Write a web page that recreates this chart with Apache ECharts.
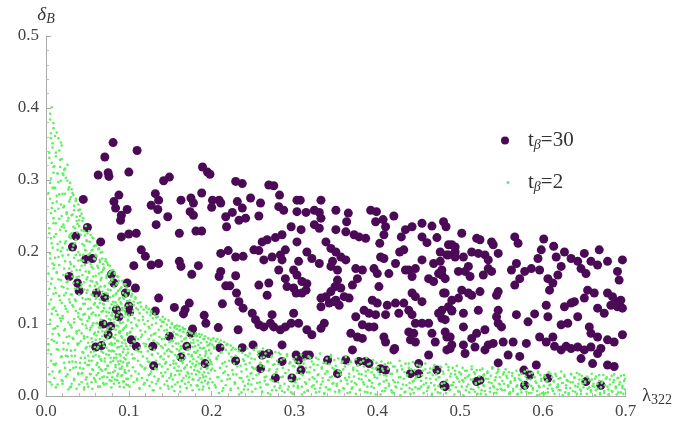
<!DOCTYPE html>
<html><head><meta charset="utf-8">
<script src="https://cdn.jsdelivr.net/npm/echarts@6/dist/echarts.min.js"></script>
<style>html,body{margin:0;padding:0;background:#fff}#c{width:675px;height:425px}</style>
</head><body><div id="c"></div>
<script>
// t_beta = 30 (purple) points
const purpleLeft = [
[.081,.352],[.110,.341],[.071,.332],[.063,.307],[.075,.310],[.076,.305],[.100,.311],[.045,.273],
[.088,.279],[.082,.270],[.084,.261],[.098,.259],[.091,.251],[.090,.244],
[.091,.221],[.100,.225],[.109,.226],[.066,.214],[.050,.234],[.036,.222],[.032,.207],[.048,.190],[.056,.191],
[.028,.166],[.038,.157],[.040,.146],[.061,.143],[.071,.137],[.079,.169],[.082,.157],
[.098,.157],[.096,.143],[.108,.150],[.085,.120],[.088,.110],[.100,.125],[.101,.117],
[.069,.100],[.078,.097],[.075,.085],[.060,.068],[.067,.070],[.103,.078],[.109,.069],
[.129,.069],[.130,.042],[.132,.118],[.136,.136],
[.106,.181],[.115,.203],[.120,.194],[.127,.182],[.136,.184],[.133,.238],
[.127,.265],[.132,.281],[.136,.272],[.135,.259],[.147,.249],[.142,.299],[.149,.304],
[.161,.226],[.161,.187],[.163,.180],[.163,.272],[.175,.275],[.178,.268],[.174,.256],[.178,.251],[.188,.282],
[.189,.318],[.195,.311],[.198,.308],[.181,.229],[.188,.229],[.184,.181],[.176,.169],
[.155,.123],[.166,.114],[.173,.129],[.168,.120],[.191,.112],[.193,.101],[.177,.093],[.175,.087],
[.149,.083],[.170,.069],[.163,.054],[.192,.045],[.210,.067],[.208,.095],[.213,.128],[.229,.049],[.232,.092],[.237,.067],
[.201,.272],[.209,.272],[.211,.268],[.200,.262],[.229,.298],[.237,.295],
[.217,.249],[.225,.255],[.231,.270],[.237,.261],[.241,.247],[.233,.244],[.218,.235],
[.211,.198],[.220,.202],[.229,.193],[.238,.194],[.211,.173],[.209,.166],[.217,.153],[.222,.153],[.229,.167],
[.230,.143],[.233,.131],[.238,.122]
];
const purpleMid = [
[.269,.293],[.275,.292],[.282,.279],[.247,.275],[.259,.268],[.257,.250],[.281,.263],[.287,.258],
[.303,.272],[.307,.272],[.303,.256],[.314,.255],[.324,.258],[.332,.272],[.330,.255],[.332,.247],[.324,.238],[.330,.233],
[.296,.235],[.308,.231],[.350,.258],[.365,.254],[.363,.242],[.350,.231],[.362,.228],[.372,.224],[.378,.221],[.386,.219],
[.392,.258],[.399,.256],[.398,.242],[.407,.245],[.420,.250],[.410,.235],[.408,.224],[.403,.212],
[.429,.221],[.434,.231],[.442,.235],[.454,.240],[.466,.236],[.480,.242],[.483,.235],[.454,.221],[.460,.213],[.472,.220],
[.486,.210],[.494,.207],[.261,.214],[.267,.217],[.277,.220],[.285,.224],[.251,.203],[.257,.202],
[.263,.189],[.273,.193],[.283,.196],[.289,.203],[.303,.214],[.315,.200],[.321,.191],[.330,.184],
[.305,.187],[.299,.175],[.303,.168],[.285,.189],[.281,.175],
[.338,.214],[.344,.205],[.350,.200],[.356,.193],[.362,.189],[.346,.187],[.344,.180],[.352,.175],
[.352,.161],[.349,.152],[.356,.150],[.344,.145],[.338,.138],[.332,.124],[.348,.131],[.354,.126],[.366,.136],
[.374,.177],[.382,.175],[.376,.163],[.370,.154],[.396,.177],[.404,.193],[.408,.191],[.400,.170],
[.422,.184],[.427,.200],[.432,.203],[.434,.175],[.442,.166],[.438,.175],[.446,.177],[.454,.189],
[.462,.163],[.468,.159],[.474,.170],[.478,.168],[.402,.152],[.414,.170],[.442,.143],[.446,.138],[.454,.131],
[.480,.143],[.490,.133],[.486,.124],[.468,.184],[.476,.200],[.486,.196],[.494,.193],
[.257,.154],[.269,.157],[.267,.140],[.289,.163],[.291,.152],[.299,.150],[.309,.159],[.315,.156],
[.302,.143],[.309,.143],[.314,.147],[.332,.136],[.342,.129],[.350,.133],[.360,.138],
[.394,.133],[.400,.129],[.412,.126],[.422,.129],[.432,.129],
[.384,.119],[.390,.115],[.398,.113],[.410,.113],[.426,.115],[.438,.119],[.442,.113],[.446,.101],[.454,.101],
[.462,.101],[.474,.115],[.478,.108],[.490,.118],[.374,.110],[.382,.099],[.390,.096],[.396,.096],
[.249,.115],[.253,.106],[.257,.099],[.263,.096],[.271,.101],[.275,.096],[.283,.092],[.289,.096],[.296,.101],
[.273,.113],[.299,.115],[.305,.101],[.315,.092],[.321,.085],[.336,.101],[.332,.094],
[.368,.087],[.376,.082],[.382,.080],[.408,.082],[.410,.075],[.420,.064],[.421,.066],
[.438,.089],[.444,.087],[.440,.078],[.446,.075],[.466,.087],[.470,.075],[.482,.089],[.484,.082],[.488,.066],
[.250,.071],[.285,.071],[.302,.057],[.314,.057],[.318,.057],[.370,.064],[.362,.050],[.378,.048],[.386,.048],[.390,.045],
[.340,.050],[.404,.038],[.410,.036],[.440,.031],[.450,.031],[.450,.045],[.462,.057],[.472,.036],[.482,.013],
[.261,.057],[.269,.059],[.259,.038],[.285,.048],[.277,.025],[.297,.025],[.308,.036],[.305,.050],[.352,.031]
];
const purpleRight = [
[.502,.226],[.520,.219],[.524,.217],[.538,.214],[.540,.210],[.566,.221],[.570,.212],[.601,.218],[.613,.208],
[.490,.210],[.494,.200],[.484,.196],
[.504,.193],[.514,.200],[.522,.198],[.530,.196],[.534,.189],[.546,.198],[.534,.177],[.538,.173],[.528,.168],
[.510,.180],[.506,.173],[.512,.166],[.476,.187],[.478,.175],[.482,.163],[.498,.173],
[.562,.175],[.568,.184],[.572,.163],[.566,.154],[.578,.173],[.586,.177],[.594,.191],[.596,.175],[.598,.203],
[.606,.163],[.612,.157],[.608,.147],[.618,.168],[.622,.180],
[.616,.193],[.626,.200],[.634,.191],[.642,.187],[.650,.198],[.658,.187],[.668,.203],[.666,.182],[.678,.187],[.696,.189],
[.690,.173],[.692,.161],[.646,.177],[.652,.170],
[.482,.143],[.478,.119],[.482,.106],[.502,.147],[.510,.143],[.514,.140],[.498,.136],[.524,.145],[.546,.145],[.544,.140],
[.490,.119],[.504,.115],[.522,.119],[.546,.119],[.544,.110],[.546,.101],[.550,.096],
[.504,.096],[.520,.087],[.530,.092],[.514,.080],[.488,.082],[.490,.071],[.484,.064],
[.504,.071],[.506,.059],[.518,.068],[.530,.064],[.534,.071],[.540,.073],[.552,.075],[.564,.075],[.580,.073],
[.546,.046],[.558,.057],[.572,.055],
[.568,.113],[.582,.103],[.590,.114],[.604,.126],[.606,.110],
[.596,.082],[.604,.075],[.612,.082],[.614,.069],[.622,.064],[.628,.069],[.634,.066],
[.626,.124],[.634,.129],[.638,.131],[.642,.110],[.650,.136],[.666,.122],[.674,.115],[.682,.126],[.690,.124],[.694,.133],[.696,.122],
[.678,.143],[.684,.138],[.690,.131],[.662,.143],[.654,.147],[.622,.099],[.630,.101],
[.656,.096],[.658,.087],[.666,.082],[.678,.078],[.686,.075],[.696,.085],
[.642,.068],[.650,.064],[.658,.068],[.666,.059],[.670,.066],[.646,.052],[.660,.045],[.678,.043],[.686,.041],
[.577,.036],[.584,.029],[.592,.043],[.520,.020],[.524,.022],[.578,.015],[.606,.025],[.652,.020],[.670,.015],[.480,.015]
];
// t_beta = 2 (green) points
const greenLeft = [
[.007,.401],[.005,.384],[.009,.372],[.006,.358],[.008,.345],[.004,.331],[.009,.318],[.006,.302],[.008,.289],[.005,.274],[.007,.261],[.009,.247],[.004,.233],[.006,.219],[.008,.206],[.005,.191],[.009,.177],[.007,.163],[.004,.149],[.006,.134],[.008,.121],[.005,.106],[.009,.093],[.007,.078],[.003,.064],[.006,.049],[.008,.034],[.005,.019],
[.013,.366],[.018,.352],[.011,.361],[.016,.341],[.019,.329],[.012,.333],[.017,.318],[.014,.309],[.015,.297],[.010,.289],[.013,.278],[.018,.266],[.011,.257],[.016,.246],[.019,.235],[.012,.225],[.017,.214],[.014,.203],[.015,.193],[.010,.182],[.013,.171],[.018,.161],[.011,.150],[.016,.139],[.019,.129],[.012,.118],[.017,.108],[.014,.097],[.015,.086],[.010,.076],[.013,.065],[.018,.054],[.011,.043],[.016,.033],[.019,.022],[.012,.012],
[.026,.321],[.022,.314],[.029,.296],[.024,.303],[.020,.309],[.027,.287],[.023,.281],[.028,.270],[.021,.262],[.025,.253],[.026,.243],[.022,.234],[.029,.224],[.024,.215],[.020,.206],[.027,.196],[.023,.187],[.028,.177],[.021,.168],[.025,.158],[.026,.149],[.022,.140],[.029,.130],[.024,.121],[.020,.111],[.027,.102],[.023,.093],[.028,.083],[.021,.074],[.025,.064],[.026,.055],[.022,.046],[.029,.036],[.024,.027],[.020,.017],[.027,.009],
[.031,.287],[.036,.271],[.033,.279],[.039,.258],[.034,.264],[.030,.276],[.037,.249],[.032,.252],[.038,.239],[.035,.233],[.031,.226],[.036,.217],[.033,.209],[.039,.200],[.034,.192],[.030,.183],[.037,.175],[.032,.166],[.038,.158],[.035,.149],[.031,.141],[.036,.132],[.033,.124],[.039,.115],[.034,.107],[.030,.098],[.037,.090],[.032,.081],[.038,.073],[.035,.064],[.031,.056],[.036,.047],[.033,.039],[.039,.030],[.034,.022],[.030,.013],
[.041,.259],[.045,.247],[.043,.253],[.048,.236],[.040,.244],[.046,.229],[.042,.224],[.049,.216],[.044,.211],[.047,.203],[.041,.196],[.045,.188],[.043,.181],[.048,.173],[.040,.166],[.046,.158],[.042,.151],[.049,.143],[.044,.136],[.047,.128],[.041,.121],[.045,.113],[.043,.106],[.048,.098],[.040,.091],[.046,.083],[.042,.076],[.049,.068],[.044,.061],[.047,.053],[.041,.046],[.045,.038],[.043,.031],[.048,.023],[.040,.016],[.046,.009],
[.052,.229],[.057,.219],[.054,.224],[.059,.209],[.050,.215],[.056,.203],[.053,.198],[.058,.191],[.051,.186],[.055,.179],[.052,.173],[.057,.166],[.054,.160],[.059,.153],[.050,.147],[.056,.140],[.053,.134],[.058,.127],[.051,.121],[.055,.114],[.052,.108],[.057,.101],[.054,.095],[.059,.088],[.050,.082],[.056,.075],[.053,.069],[.058,.062],[.051,.056],[.055,.049],[.052,.043],[.057,.036],[.054,.030],[.059,.023],[.050,.017],[.056,.010],
[.061,.209],[.066,.199],[.063,.204],[.068,.191],[.060,.196],[.065,.186],[.062,.181],[.069,.175],[.064,.170],[.067,.164],[.061,.158],[.066,.152],[.063,.147],[.068,.141],[.060,.135],[.065,.129],[.062,.124],[.069,.118],[.064,.112],[.067,.106],[.061,.101],[.066,.095],[.063,.089],[.068,.083],[.060,.078],[.065,.072],[.062,.066],[.069,.060],[.064,.055],[.067,.049],[.061,.043],[.066,.037],[.063,.032],[.068,.026],[.060,.020],[.065,.013],
[.072,.190],[.077,.181],[.074,.185],[.079,.174],[.070,.178],[.076,.169],[.073,.164],[.078,.158],[.071,.153],[.075,.148],[.072,.143],[.077,.137],[.074,.132],[.079,.127],[.070,.122],[.076,.116],[.073,.111],[.078,.106],[.071,.100],[.075,.095],[.072,.090],[.077,.085],[.074,.079],[.079,.074],[.070,.069],[.076,.063],[.073,.058],[.078,.053],[.071,.048],[.075,.042],[.072,.037],[.077,.032],[.074,.026],[.079,.021],[.070,.016],
[.081,.175],[.086,.166],[.083,.171],[.088,.160],[.080,.163],[.085,.155],[.082,.151],[.087,.146],[.084,.141],[.089,.136],[.081,.131],[.086,.126],[.083,.121],[.088,.116],[.080,.112],[.085,.107],[.082,.102],[.087,.097],[.084,.092],[.089,.087],[.081,.082],[.086,.077],[.083,.073],[.088,.068],[.080,.063],[.085,.058],[.082,.053],[.087,.048],[.084,.043],[.089,.038],[.081,.033],[.086,.028],[.083,.023],[.088,.018],
[.092,.160],[.097,.151],[.094,.155],[.099,.146],[.090,.149],[.096,.141],[.093,.137],[.098,.132],[.091,.128],[.095,.123],[.092,.119],[.097,.114],[.094,.110],[.099,.105],[.090,.101],[.096,.096],[.093,.092],[.098,.087],[.091,.083],[.095,.078],[.092,.074],[.097,.069],[.094,.065],[.099,.060],[.090,.056],[.096,.051],[.093,.047],[.098,.042],[.091,.038],[.095,.033],[.092,.029],[.097,.024],[.094,.020],[.099,.015]
];
const greenDenseLeft = [
[.005,.392],[.009,.379],[.006,.365],[.008,.351],[.004,.338],[.007,.324],[.009,.310],[.005,.296],[.003,.282],[.008,.268],[.006,.254],[.009,.240],[.004,.226],[.007,.212],[.005,.198],[.008,.184],[.003,.170],[.006,.156],[.009,.142],[.004,.128],[.007,.114],[.005,.100],[.008,.086],[.003,.072],[.006,.058],[.009,.044],[.004,.030],[.007,.016],
[.015,.358],[.019,.348],[.012,.338],[.017,.328],[.010,.319],[.014,.309],[.018,.299],[.011,.289],[.016,.280],[.013,.270],[.015,.260],[.019,.250],[.012,.240],[.017,.231],[.010,.221],[.014,.211],[.018,.201],[.011,.192],[.016,.182],[.013,.172],[.015,.162],[.019,.152],[.012,.143],[.017,.133],[.010,.123],[.014,.113],[.018,.104],[.011,.094],[.016,.084],[.013,.074],[.015,.064],[.019,.055],[.012,.045],[.017,.035],[.010,.025],[.014,.016],
[.023,.316],[.021,.307],[.026,.299],[.028,.290],[.020,.281],[.029,.273],[.022,.264],[.025,.255],[.027,.247],[.021,.238],[.024,.229],[.028,.221],[.023,.212],[.026,.203],[.020,.195],[.029,.186],[.022,.177],[.025,.169],[.027,.160],[.021,.151],[.024,.143],[.028,.134],[.023,.125],[.026,.117],[.020,.108],[.029,.099],[.022,.091],[.025,.082],[.027,.073],[.021,.065],[.024,.056],[.028,.047],[.023,.039],[.026,.030],[.020,.021],[.029,.012],
[.032,.282],[.036,.274],[.039,.266],[.034,.258],[.031,.251],[.037,.243],[.033,.235],[.038,.227],[.030,.219],[.035,.212],[.032,.204],[.036,.196],[.039,.188],[.034,.180],[.031,.173],[.037,.165],[.033,.157],[.038,.149],[.030,.141],[.035,.134],[.032,.126],[.036,.118],[.039,.110],[.034,.102],[.031,.095],[.037,.087],[.033,.079],[.038,.071],[.030,.063],[.035,.056],[.032,.048],[.036,.040],[.039,.032],[.034,.024],[.031,.017],[.037,.010],
[.041,.250],[.044,.243],[.040,.236],[.043,.230],[.047,.223],[.049,.216],[.046,.209],[.048,.202],[.045,.196],[.042,.189],[.047,.182],[.041,.175],[.044,.168],[.049,.162],[.043,.155],[.046,.148],[.040,.141],[.048,.134],[.045,.128],[.042,.121],[.047,.114],[.041,.107],[.044,.100],[.049,.094],[.043,.087],[.046,.080],[.040,.073],[.048,.066],[.045,.060],[.042,.053],[.047,.046],[.041,.039],[.044,.032],[.049,.026],[.043,.019],[.046,.012],
[.050,.226],[.056,.220],[.053,.214],[.058,.208],[.055,.202],[.051,.196],[.059,.190],[.054,.183],[.057,.177],[.052,.171],[.050,.165],[.056,.159],[.053,.153],[.058,.147],[.055,.141],[.051,.135],[.059,.129],[.054,.122],[.057,.116],[.052,.110],[.050,.104],[.056,.098],[.053,.092],[.058,.086],[.055,.080],[.051,.074],[.059,.068],[.054,.061],[.057,.055],[.052,.049],[.050,.043],[.056,.037],[.053,.031],[.058,.025],[.055,.019],[.051,.013],
[.064,.205],[.068,.200],[.061,.194],[.065,.189],[.069,.183],[.063,.178],[.067,.172],[.060,.167],[.066,.161],[.062,.156],[.064,.150],[.068,.145],[.061,.139],[.065,.134],[.069,.128],[.063,.123],[.067,.117],[.060,.112],[.066,.106],[.062,.101],[.064,.095],[.068,.090],[.061,.084],[.065,.079],[.069,.073],[.063,.068],[.067,.062],[.060,.057],[.066,.051],[.062,.046],[.064,.040],[.068,.035],[.061,.029],[.065,.024],[.069,.018],[.063,.013],
[.072,.187],[.075,.182],[.070,.177],[.077,.172],[.073,.167],[.079,.162],[.076,.157],[.071,.152],[.078,.147],[.074,.142],[.072,.137],[.075,.132],[.070,.127],[.077,.122],[.073,.117],[.079,.112],[.076,.107],[.071,.102],[.078,.097],[.074,.092],[.072,.087],[.075,.082],[.070,.077],[.077,.072],[.073,.067],[.079,.062],[.076,.057],[.071,.052],[.078,.047],[.074,.042],[.072,.037],[.075,.032],[.070,.027],[.077,.022],[.073,.017],[.079,.012],
[.083,.170],[.087,.166],[.080,.161],[.086,.157],[.082,.152],[.089,.148],[.085,.143],[.081,.139],[.088,.134],[.084,.130],[.083,.125],[.087,.121],[.080,.116],[.086,.112],[.082,.107],[.089,.103],[.085,.098],[.081,.094],[.088,.089],[.084,.085],[.083,.080],[.087,.076],[.080,.071],[.086,.067],[.082,.062],[.089,.058],[.085,.053],[.081,.049],[.088,.044],[.084,.040],[.083,.035],[.087,.031],[.080,.026],[.086,.022],[.082,.017],[.089,.013],
[.096,.155],[.091,.151],[.099,.147],[.093,.143],[.097,.139],[.094,.135],[.090,.130],[.098,.126],[.092,.122],[.095,.118],[.096,.114],[.091,.110],[.099,.106],[.093,.102],[.097,.098],[.094,.094],[.090,.090],[.098,.085],[.092,.081],[.095,.077],[.096,.073],[.091,.069],[.099,.065],[.093,.061],[.097,.057],[.094,.053],[.090,.049],[.098,.045],[.092,.041],[.095,.036],[.096,.032],[.091,.028],[.099,.024],[.093,.020],[.097,.016],[.094,.012]
];
const greenMid = [
[.101,.147],[.104,.142],[.103,.138],[.108,.135],[.106,.131],[.111,.129],[.102,.127],[.115,.124],[.109,.122],[.118,.120],[.105,.118],[.113,.115],[.100,.112],[.117,.110],[.107,.108],[.112,.105],[.103,.102],[.119,.100],[.110,.097],[.104,.094],[.114,.091],[.101,.088],[.116,.085],[.108,.082],[.111,.079],[.106,.076],[.118,.073],[.102,.070],[.113,.067],[.109,.064],[.115,.061],[.104,.058],[.117,.055],[.107,.052],[.111,.049],[.100,.046],[.114,.043],[.105,.040],[.119,.037],[.108,.034],[.112,.031],[.103,.028],[.116,.025],[.110,.022],[.106,.019],[.118,.016],[.101,.013],[.113,.010],
[.121,.125],[.124,.121],[.127,.118],[.122,.116],[.131,.114],[.126,.112],[.135,.110],[.129,.108],[.138,.106],[.123,.104],[.133,.101],[.128,.099],[.139,.097],[.125,.094],[.136,.092],[.120,.089],[.132,.087],[.127,.084],[.137,.082],[.124,.079],[.130,.077],[.134,.074],[.121,.072],[.139,.069],[.126,.067],[.131,.064],[.123,.062],[.135,.059],[.128,.057],[.138,.054],[.122,.052],[.133,.049],[.125,.047],[.137,.044],[.129,.042],[.120,.039],[.134,.037],[.127,.034],[.139,.032],[.124,.029],[.131,.027],[.136,.024],[.122,.022],[.128,.019],[.133,.017],[.125,.014],[.138,.011],[.130,.008],
[.141,.110],[.144,.107],[.148,.105],[.142,.103],[.152,.101],[.146,.099],[.156,.097],[.150,.095],[.158,.093],[.143,.091],[.154,.089],[.147,.087],[.159,.085],[.145,.083],[.155,.081],[.140,.079],[.151,.077],[.149,.075],[.157,.073],[.144,.071],[.153,.069],[.141,.067],[.158,.065],[.146,.063],[.152,.061],[.143,.059],[.156,.057],[.148,.055],[.159,.053],[.142,.051],[.154,.049],[.145,.047],[.157,.045],[.150,.043],[.140,.041],[.155,.039],[.147,.037],[.158,.035],[.144,.033],[.151,.031],[.156,.029],[.141,.027],[.149,.025],[.153,.023],[.146,.021],[.159,.019],[.143,.016],[.152,.013],[.148,.010],[.155,.007],
[.161,.097],[.165,.095],[.168,.093],[.162,.092],[.172,.090],[.166,.089],[.176,.087],[.170,.086],[.179,.084],[.163,.083],[.174,.081],[.167,.079],[.178,.078],[.164,.076],[.175,.074],[.160,.073],[.171,.071],[.169,.070],[.177,.068],[.163,.066],[.173,.065],[.161,.063],[.179,.061],[.166,.060],[.172,.058],[.164,.056],[.176,.055],[.168,.053],[.178,.051],[.162,.050],[.174,.048],[.165,.046],[.177,.045],[.170,.043],[.160,.041],[.175,.040],[.167,.038],[.179,.036],[.163,.035],[.171,.033],[.176,.031],[.161,.030],[.169,.028],[.173,.026],[.166,.025],[.178,.023],[.164,.021],[.172,.019],[.168,.017],[.175,.015],[.162,.013],[.170,.011],[.177,.008],
[.181,.087],[.185,.086],[.188,.085],[.182,.084],[.192,.083],[.186,.082],[.196,.080],[.190,.079],[.199,.078],[.183,.077],[.194,.075],[.187,.074],[.198,.073],[.184,.071],[.195,.070],[.180,.069],[.191,.067],[.189,.066],[.197,.064],[.183,.063],[.193,.062],[.181,.060],[.199,.059],[.186,.057],[.192,.056],[.184,.054],[.196,.053],[.188,.051],[.198,.050],[.182,.048],[.194,.047],[.185,.045],[.197,.044],[.190,.042],[.180,.041],[.195,.039],[.187,.038],[.199,.036],[.183,.035],[.191,.033],[.196,.032],[.181,.030],[.189,.029],[.193,.027],[.186,.025],[.198,.024],[.184,.022],[.192,.021],[.188,.019],[.195,.017],[.182,.015],[.190,.013],[.197,.011],[.185,.009],
[.202,.080],[.207,.079],[.211,.077],[.205,.076],[.215,.075],[.209,.074],[.219,.072],[.201,.071],[.223,.070],[.213,.069],[.226,.067],[.203,.066],[.229,.065],[.217,.064],[.233,.062],[.212,.061],[.237,.060],[.221,.059],[.241,.057],[.208,.056],[.244,.055],[.224,.054],[.248,.052],[.206,.051],[.231,.050],[.239,.049],[.216,.047],[.246,.046],[.227,.045],[.200,.044],[.235,.042],[.218,.041],[.249,.040],[.210,.039],[.242,.037],[.225,.036],[.204,.035],[.236,.034],[.214,.032],[.247,.031],[.230,.030],[.220,.029],[.243,.027],[.207,.026],[.234,.025],[.222,.024],[.245,.022],[.212,.021],[.238,.020],[.201,.019],[.228,.017],[.248,.016],[.217,.015],[.240,.014],[.205,.012],[.232,.011],[.223,.010],[.244,.009],[.213,.007],[.236,.005]
];
const greenDenseMid = [
[.103,.140],[.108,.137],[.101,.133],[.114,.130],[.106,.126],[.121,.123],[.111,.120],[.127,.116],[.104,.113],[.133,.109],[.117,.106],[.140,.103],[.109,.099],[.124,.096],[.146,.092],[.102,.089],[.130,.086],[.115,.082],[.143,.079],[.107,.075],[.136,.072],[.120,.069],[.148,.065],[.112,.062],[.128,.058],[.139,.055],[.105,.052],[.123,.048],[.144,.045],[.116,.041],[.132,.038],[.100,.035],[.126,.031],[.141,.028],[.110,.024],[.135,.021],[.119,.018],[.147,.014],[.113,.011],[.129,.008],
[.152,.100],[.158,.098],[.155,.095],[.166,.093],[.161,.091],[.174,.088],[.157,.086],[.182,.083],[.169,.081],[.191,.079],[.153,.076],[.178,.074],[.197,.071],[.163,.069],[.186,.067],[.171,.064],[.150,.062],[.193,.059],[.176,.057],[.159,.055],[.188,.052],[.165,.050],[.199,.047],[.154,.045],[.181,.043],[.168,.040],[.194,.038],[.160,.035],[.185,.033],[.172,.031],[.151,.028],[.190,.026],[.177,.023],[.164,.021],[.196,.019],[.156,.016],[.183,.014],[.170,.011],[.189,.009],[.162,.006]
];
const greenRight = [
[.254,.067],[.262,.066],[.251,.064],[.269,.063],[.258,.062],[.277,.061],[.265,.059],[.283,.058],[.256,.057],[.291,.056],[.272,.054],[.260,.053],[.287,.052],[.252,.051],[.279,.049],[.267,.048],[.295,.047],[.259,.046],[.281,.044],[.274,.043],[.298,.042],[.263,.041],[.286,.039],[.253,.038],[.270,.037],[.293,.036],[.261,.034],[.278,.033],[.289,.032],[.257,.031],[.275,.029],[.297,.028],[.266,.027],[.284,.026],[.250,.024],[.271,.023],[.294,.022],[.264,.021],[.280,.019],[.255,.018],[.288,.017],[.268,.016],[.299,.014],[.276,.013],[.259,.012],[.282,.011],[.292,.009],[.273,.008],[.285,.007],[.261,.006],[.296,.005],[.268,.004],
[.331,.059],[.308,.058],[.344,.057],[.317,.055],[.302,.054],[.326,.053],[.339,.052],[.313,.051],[.348,.050],[.321,.048],[.305,.047],[.335,.046],[.311,.045],[.342,.044],[.328,.043],[.300,.041],[.319,.040],[.346,.039],[.333,.038],[.307,.037],[.324,.036],[.340,.034],[.315,.033],[.303,.032],[.337,.031],[.329,.030],[.310,.029],[.345,.027],[.322,.026],[.334,.025],[.306,.024],[.318,.023],[.341,.022],[.327,.020],[.301,.019],[.347,.018],[.314,.017],[.332,.016],[.323,.015],[.309,.013],[.338,.012],[.304,.011],[.325,.010],[.343,.009],[.316,.008],[.330,.006],[.312,.005],[.336,.004],
[.362,.054],[.387,.053],[.353,.052],[.374,.051],[.395,.050],[.368,.048],[.380,.047],[.357,.046],[.391,.045],[.365,.044],[.377,.043],[.350,.042],[.384,.041],[.371,.039],[.398,.038],[.359,.037],[.389,.036],[.376,.035],[.355,.034],[.393,.033],[.366,.031],[.381,.030],[.352,.029],[.386,.028],[.372,.027],[.397,.026],[.361,.025],[.378,.024],[.390,.022],[.356,.021],[.369,.020],[.383,.019],[.394,.018],[.364,.017],[.375,.016],[.351,.014],[.388,.013],[.370,.012],[.396,.011],[.360,.010],[.379,.009],[.354,.008],[.385,.006],[.367,.005],[.392,.004],
[.427,.049],[.405,.048],[.443,.047],[.416,.046],[.434,.045],[.409,.044],[.448,.043],[.421,.041],[.401,.040],[.438,.039],[.413,.038],[.430,.037],[.445,.036],[.407,.035],[.424,.034],[.441,.033],[.418,.031],[.403,.030],[.436,.029],[.411,.028],[.447,.027],[.428,.026],[.400,.025],[.432,.024],[.419,.022],[.444,.021],[.408,.020],[.425,.019],[.439,.018],[.414,.017],[.402,.016],[.435,.015],[.422,.013],[.446,.012],[.410,.011],[.429,.010],[.442,.009],[.417,.008],[.406,.007],[.433,.005],[.420,.004],[.440,.003],
[.458,.045],[.483,.044],[.469,.043],[.496,.042],[.452,.041],[.477,.040],[.491,.039],[.464,.038],[.486,.036],[.455,.035],[.473,.034],[.499,.033],[.461,.032],[.480,.031],[.494,.030],[.467,.029],[.450,.028],[.488,.027],[.475,.026],[.459,.025],[.497,.024],[.471,.023],[.484,.022],[.453,.021],[.492,.019],[.465,.018],[.478,.017],[.456,.016],[.489,.015],[.474,.014],[.462,.013],[.495,.012],[.481,.011],[.451,.010],[.470,.009],[.487,.008],[.460,.007],[.498,.006],[.476,.004],[.466,.003],
[.514,.041],[.539,.040],[.503,.039],[.527,.038],[.546,.037],[.520,.036],[.508,.035],[.533,.034],[.517,.033],[.544,.032],[.501,.031],[.529,.030],[.511,.029],[.537,.028],[.523,.027],[.548,.026],[.506,.025],[.531,.024],[.515,.023],[.542,.022],[.526,.021],[.504,.020],[.535,.019],[.519,.018],[.547,.017],[.510,.016],[.528,.015],[.540,.014],[.502,.013],[.522,.012],[.536,.011],[.513,.010],[.545,.009],[.507,.008],[.530,.007],[.518,.006],[.541,.004],[.525,.003],
[.555,.037],[.581,.036],[.568,.035],[.594,.034],[.559,.033],[.587,.032],[.574,.031],[.552,.030],[.597,.029],[.563,.028],[.579,.027],[.590,.026],[.557,.025],[.571,.024],[.585,.023],[.566,.022],[.598,.021],[.561,.020],[.576,.019],[.592,.018],[.553,.017],[.583,.016],[.569,.015],[.595,.014],[.558,.013],[.578,.012],[.588,.011],[.564,.010],[.573,.009],[.551,.008],[.593,.007],[.580,.006],[.560,.005],[.586,.004],[.570,.003],[.596,.002],
[.622,.034],[.607,.033],[.641,.032],[.615,.031],[.634,.030],[.602,.029],[.647,.028],[.626,.027],[.611,.026],[.638,.025],[.619,.024],[.644,.023],[.605,.022],[.630,.021],[.613,.020],[.636,.019],[.624,.018],[.648,.017],[.609,.016],[.628,.015],[.601,.014],[.642,.013],[.617,.012],[.633,.011],[.606,.010],[.645,.009],[.621,.008],[.612,.007],[.639,.006],[.627,.005],[.603,.004],[.646,.003],[.631,.002],[.618,.016],
[.659,.031],[.686,.030],[.668,.029],[.694,.028],[.653,.027],[.677,.026],[.690,.025],[.663,.024],[.681,.023],[.656,.022],[.698,.021],[.672,.020],[.685,.019],[.651,.018],[.666,.017],[.692,.016],[.675,.015],[.660,.014],[.688,.013],[.670,.012],[.696,.011],[.654,.010],[.679,.009],[.664,.008],[.683,.007],[.658,.006],[.691,.005],[.674,.004],[.697,.003],[.669,.002],[.699,.024],[.662,.013]
];
const greenDenseRight = [
[.201,.038],[.203,.068],[.204,.015],[.206,.053],[.208,.026],[.209,.004],[.211,.060],[.213,.045],[.214,.011],[.216,.034],[.218,.071],[.219,.023],[.221,.049],[.223,.008],[.224,.064],[.226,.030],[.228,.019],[.229,.056],[.231,.041],[.233,.002],[.234,.066],[.236,.025],[.238,.051],[.239,.009],[.241,.044],[.243,.066],[.244,.017],[.246,.059],[.248,.032],[.249,.006],
[.251,.038],[.253,.010],[.254,.029],[.256,.061],[.258,.019],[.259,.042],[.261,.006],[.263,.054],[.264,.026],[.266,.016],[.268,.048],[.269,.035],[.271,.002],[.273,.056],[.274,.021],[.276,.044],[.278,.008],[.279,.037],[.281,.060],[.283,.014],[.284,.050],[.286,.027],[.288,.005],[.289,.032],[.291,.058],[.293,.013],[.294,.045],[.296,.022],[.298,.003],[.299,.051],
[.301,.048],[.303,.023],[.304,.014],[.306,.043],[.308,.031],[.309,.002],[.311,.050],[.313,.019],[.314,.039],[.316,.007],[.318,.033],[.319,.053],[.321,.013],[.323,.044],[.324,.024],[.326,.005],[.328,.029],[.329,.051],[.331,.011],[.333,.040],[.334,.020],[.336,.003],[.338,.046],[.339,.034],[.341,.009],[.343,.026],[.344,.054],[.346,.017],[.348,.037],[.349,.006],
[.351,.017],[.353,.035],[.354,.006],[.356,.030],[.358,.048],[.359,.011],[.361,.041],[.363,.022],[.364,.004],[.366,.026],[.368,.047],[.369,.010],[.371,.036],[.373,.018],[.374,.003],[.376,.042],[.378,.031],[.379,.008],[.381,.023],[.383,.049],[.384,.016],[.386,.034],[.388,.005],[.389,.044],[.391,.021],[.393,.013],[.394,.039],[.396,.029],[.398,.002],[.399,.046],
[.401,.034],[.403,.017],[.404,.002],[.406,.038],[.408,.029],[.409,.007],[.411,.022],[.413,.046],[.414,.014],[.416,.031],[.418,.005],[.419,.041],[.421,.019],[.423,.012],[.424,.036],[.426,.026],[.428,.001],[.429,.042],[.431,.016],[.433,.033],[.434,.006],[.436,.028],[.438,.045],[.439,.011],[.441,.037],[.443,.020],[.444,.004],[.446,.024],[.448,.043],[.449,.010],
[.451,.042],[.453,.013],[.454,.029],[.456,.004],[.458,.037],[.459,.018],[.461,.011],[.463,.033],[.464,.024],[.466,.001],[.468,.039],[.469,.015],[.471,.030],[.473,.005],[.474,.026],[.476,.041],[.478,.010],[.479,.034],[.481,.018],[.483,.004],[.484,.022],[.486,.040],[.488,.009],[.489,.031],[.491,.015],[.493,.002],[.494,.035],[.496,.026],[.498,.007],[.499,.020],
[.501,.030],[.503,.022],[.504,.001],[.506,.035],[.508,.013],[.509,.027],[.511,.005],[.513,.023],[.514,.037],[.516,.009],[.518,.031],[.519,.017],[.521,.003],[.523,.020],[.524,.036],[.526,.008],[.528,.028],[.529,.014],[.531,.002],[.533,.032],[.534,.024],[.536,.006],[.538,.018],[.539,.038],[.541,.012],[.543,.026],[.544,.004],[.546,.034],[.548,.016],[.549,.010],
[.551,.021],[.553,.033],[.554,.008],[.556,.028],[.558,.015],[.559,.003],[.561,.018],[.563,.032],[.564,.007],[.566,.025],[.568,.013],[.569,.002],[.571,.029],[.573,.022],[.574,.005],[.576,.016],[.578,.034],[.579,.011],[.581,.023],[.583,.004],[.584,.031],[.586,.014],[.588,.009],[.589,.027],[.591,.020],[.593,.001],[.594,.032],[.596,.012],[.598,.024],[.599,.004],
[.601,.002],[.603,.026],[.604,.020],[.606,.005],[.608,.015],[.609,.031],[.611,.010],[.613,.021],[.614,.003],[.616,.028],[.618,.013],[.619,.008],[.621,.025],[.623,.018],[.624,.001],[.626,.029],[.628,.011],[.629,.022],[.631,.004],[.633,.019],[.634,.031],[.636,.007],[.638,.026],[.639,.014],[.641,.003],[.643,.017],[.644,.030],[.646,.007],[.648,.023],[.649,.012],
[.651,.020],[.653,.003],[.654,.026],[.656,.012],[.658,.008],[.659,.023],[.661,.017],[.663,.001],[.664,.027],[.666,.010],[.668,.021],[.669,.004],[.671,.018],[.673,.029],[.674,.007],[.676,.024],[.678,.013],[.679,.002],[.681,.016],[.683,.028],[.684,.006],[.686,.022],[.688,.011],[.689,.002],[.691,.025],[.693,.019],[.694,.005],[.696,.014],[.698,.029],[.699,.009]
];
const seriesNames = ['tβ=30', 'tβ=2'];
const legendValues = ['30', '2'];
const xRange = [0, 0.7];
const yRange = [0, 0.5];

const serif = 'Liberation Serif';
const chart = echarts.init(document.getElementById('c'), null, {renderer: 'canvas'});
const richLegend = {
  t: {fontFamily: serif, fontSize: 21, color: '#333', lineHeight: 24},
  s: {fontFamily: serif, fontSize: 14, fontStyle: 'italic', color: '#333', lineHeight: 24, padding: [9, 0, 0, 0]}
};
function legendFmt(name) {
  const i = seriesNames.indexOf(name);
  return '{t|t}{s|β}{t|=' + legendValues[i] + '}';
}
const axisCommon = {
  type: 'value',
  interval: 0.1,
  axisLine: {lineStyle: {color: '#aaa', width: 1}},
  axisTick: {inside: true, length: 5, lineStyle: {color: '#aaa'}},
  minorTick: {show: true, splitNumber: 5, length: 3, lineStyle: {color: '#bbb'}},
  splitLine: {show: false},
  axisLabel: {formatter: v => v.toFixed(1), fontFamily: serif, fontSize: 17, color: '#444', margin: 7}
};
chart.setOption({
  animation: false,
  backgroundColor: '#fff',
  grid: {left: 46, right: 47, top: 36, bottom: 29},
  xAxis: Object.assign({}, axisCommon, {
    min: xRange[0], max: xRange[1],
    name: '{l|λ}{n|322}', nameLocation: 'end', nameGap: 12,
    nameTextStyle: {rich: {
      l: {fontFamily: serif, fontSize: 18, color: '#333', lineHeight: 22},
      n: {fontFamily: serif, fontSize: 14, color: '#333', lineHeight: 22, padding: [9, 0, 0, 0]}
    }}
  }),
  yAxis: Object.assign({}, axisCommon, {
    min: yRange[0], max: yRange[1],
    name: '{d|δ}{b|B}', nameLocation: 'end', nameGap: 10,
    nameTextStyle: {rich: {
      d: {fontFamily: serif, fontSize: 19, fontStyle: 'italic', color: '#333', lineHeight: 22},
      b: {fontFamily: serif, fontSize: 14, fontStyle: 'italic', color: '#333', lineHeight: 22, padding: [9, 0, 0, 0]}
    }}
  }),
  legend: [
    {data: [seriesNames[0]], left: 501, top: 129, padding: 0, itemWidth: 8, itemHeight: 8, icon: 'circle',
     formatter: legendFmt, textStyle: {padding: [0, 0, 0, 14], rich: richLegend}},
    {data: [seriesNames[1]], left: 506.5, top: 171, padding: 0, itemWidth: 3, itemHeight: 3, icon: 'circle',
     formatter: legendFmt, textStyle: {padding: [0, 0, 0, 13.5], rich: richLegend}}
  ],
  series: [
    {name: seriesNames[0], type: 'scatter', symbol: 'circle', symbolSize: 9,
     itemStyle: {color: '#4b0a55', opacity: 1}, data: purpleLeft.concat(purpleMid, purpleRight), z: 2},
    {name: seriesNames[1], type: 'scatter', symbol: 'circle', symbolSize: 2.6,
     itemStyle: {color: '#5ef05e', opacity: 1},
     data: greenLeft.concat(greenDenseLeft, greenMid, greenDenseMid, greenRight, greenDenseRight), z: 3, large: false}
  ]
});
</script></body></html>
